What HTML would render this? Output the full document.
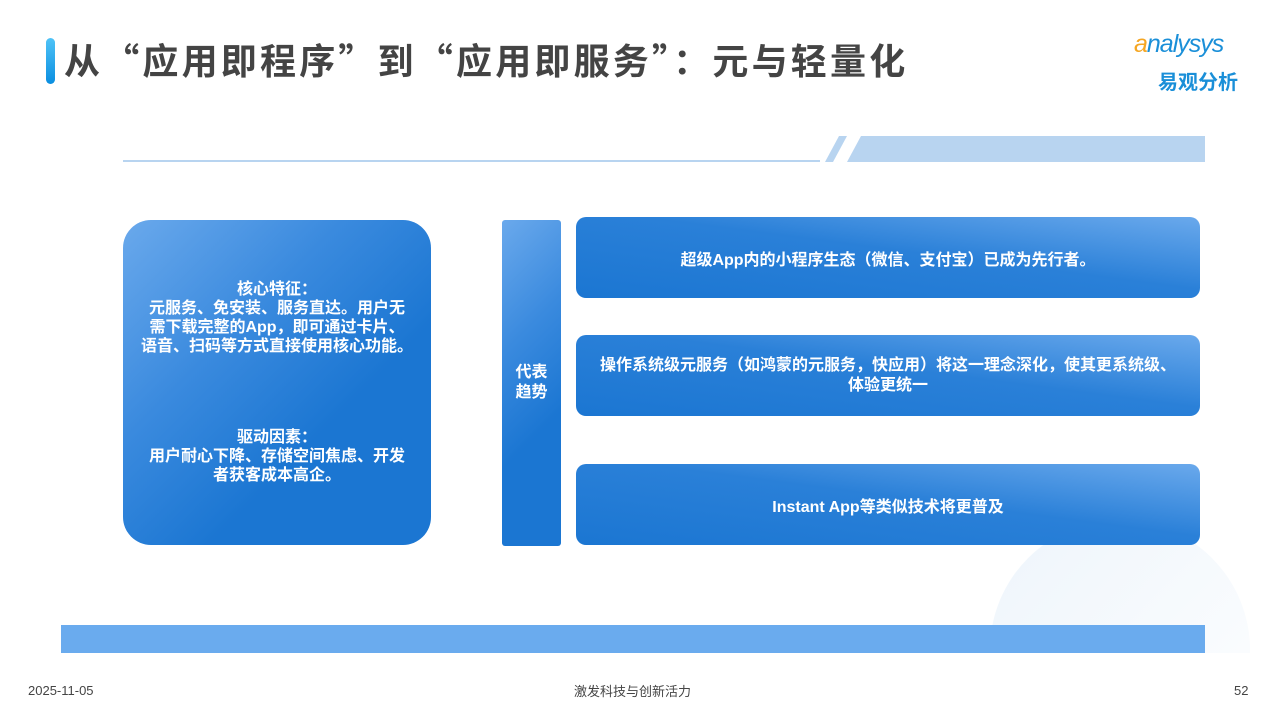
<!DOCTYPE html>
<html><head><meta charset="utf-8"><style>
body{margin:0;width:1280px;height:720px;position:relative;background:#fff;overflow:hidden;font-family:"Liberation Sans","Noto Sans CJK SC",sans-serif}
.a{position:absolute}
.g{background:linear-gradient(135deg,#6aa9ec 0%,#3a8ade 35%,#1b76d2 65%,#1b76d2 100%);color:#fff;font-weight:bold;text-align:center;display:flex;align-items:center;justify-content:center}
.r{border-radius:10px;font-size:16px;background:linear-gradient(to bottom left,#6aa9ec 0%,#2a80d8 45%,#1b76d2 100%)}
</style></head><body>
<div class="a" style="left:990px;top:520px;width:260px;height:133px;border-radius:130px 130px 0 0;background:linear-gradient(135deg,#eef5fb,#fafcfe)"></div>
<div class="a" style="left:46px;top:38px;width:9px;height:46px;border-radius:5px;background:linear-gradient(#4fc3f7,#0a8ee0)"></div>
<div class="a" style="left:64px;top:36px;font-size:36px;line-height:46px;color:#444;font-weight:bold;letter-spacing:3.2px;font-family:'Noto Sans CJK SC',sans-serif">从“应用即程序”到“应用即服务”：元与轻量化</div>
<div class="a" style="left:1134px;top:30px;font-size:25px;color:#1a8fd8;font-style:italic;letter-spacing:-1px"><span style="color:#f5a623">a</span>nalysys</div>
<div class="a" style="left:1158px;top:66px;font-size:20px;color:#1a8fd8;font-weight:bold">易观分析</div>
<div class="a" style="left:123px;top:160px;width:697px;height:2px;background:#b8d4f0"></div>
<svg class="a" style="left:825px;top:136px" width="380" height="26"><polygon points="0,26 14,0 22,0 8,26" fill="#b8d4f0"/><polygon points="22,26 36,0 380,0 380,26" fill="#b8d4f0"/></svg>
<div class="a g" style="left:123px;top:220px;width:308px;height:325px;border-radius:28px;font-size:16px;line-height:19px;flex-direction:column"><div>核心特征：<br>元服务、免安装、服务直达。用户无<br>需下载完整的App，即可通过卡片、<br>语音、扫码等方式直接使用核心功能。</div><div style="height:72px"></div><div>驱动因素：<br>用户耐心下降、存储空间焦虑、开发<br>者获客成本高企。</div></div>
<div class="a g" style="left:502px;top:220px;width:59px;height:326px;border-radius:3px;font-size:16px;line-height:20px">代表<br>趋势</div>
<div class="a g r" style="left:576px;top:217px;width:624px;height:81px">超级App内的小程序生态（微信、支付宝）已成为先行者。</div>
<div class="a g r" style="left:576px;top:335px;width:624px;height:81px;line-height:20px">操作系统级元服务（如鸿蒙的元服务，快应用）将这一理念深化，使其更系统级、<br>体验更统一</div>
<div class="a g r" style="left:576px;top:464px;width:624px;height:81px">Instant App等类似技术将更普及</div>
<div class="a" style="left:61px;top:625px;width:1144px;height:28px;background:#6aabee"></div>
<div class="a" style="left:28px;top:683px;font-size:13px;color:#444">2025-11-05</div>
<div class="a" style="left:574px;top:681px;font-size:13px;color:#444">激发科技与创新活力</div>
<div class="a" style="left:1234px;top:683px;font-size:13px;color:#444">52</div>
</body></html>
